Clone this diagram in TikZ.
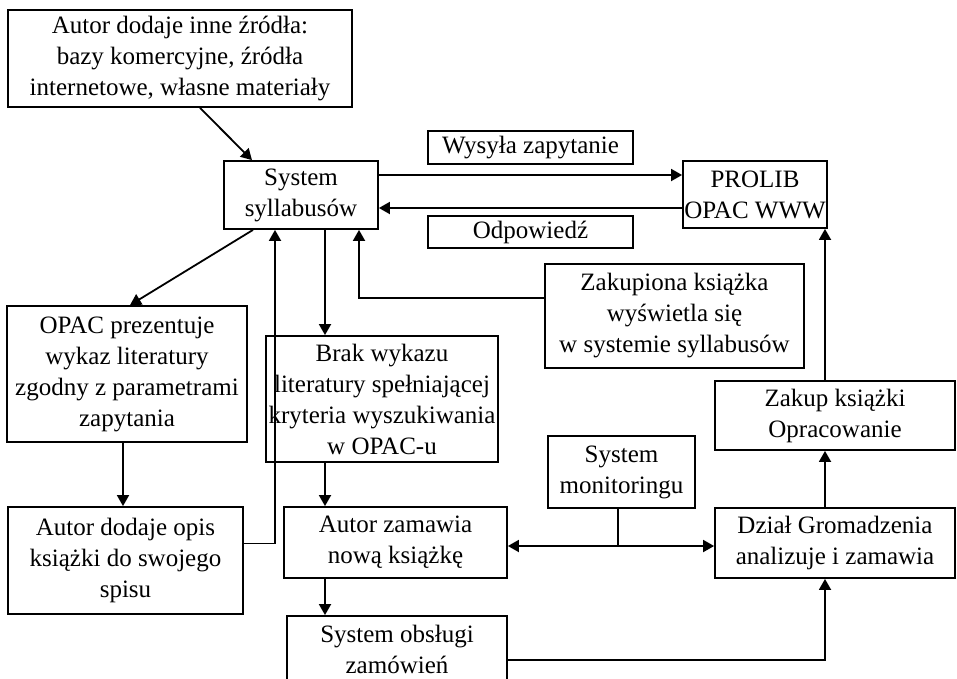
\documentclass[tikz,border=0pt]{standalone}
\usepackage{fontspec}
\setmainfont{Liberation Serif}
\usetikzlibrary{arrows.meta}

\begin{document}
\begin{tikzpicture}[
  x=1pt, y=-1pt,
  box/.style={draw, rectangle, line width=1.8pt, inner sep=0pt, align=center,
    font=\fontsize{25}{31}\selectfont},
  arr/.style={line width=1.8pt, -{Triangle[length=11pt, width=12pt]}},
  link/.style={line width=1.8pt}
]
\useasboundingbox (0,0) rectangle (957,678);

% Top - sources and syllabus system
\node[box, minimum width=344pt, minimum height=97pt] (src) at (180,58.5) {
  Autor dodaje inne źródła: \\
  bazy komercyjne, źródła \\
  internetowe, własne materiały
};
\node[box, minimum width=154pt, minimum height=68pt] (syl) at (301,195) {System \\ syllabusów};
\node[box, minimum width=205pt, minimum height=33pt] (query) at (530.5,147.5) {Wysyła zapytanie};
\node[box, minimum width=205pt, minimum height=32pt] (answer) at (530.5,232) {Odpowiedź};
\node[box, minimum width=144pt, minimum height=67pt] (prolib) at (755,194.5) {PROLIB \\ OPAC WWW};

% Middle row
\node[box, minimum width=240pt, minimum height=136pt] (opac) at (127,374) {
  OPAC prezentuje \\
  wykaz literatury \\
  zgodny z parametrami \\
  zapytania
};
\node[box, minimum width=232pt, minimum height=126pt] (brak) at (382,399) {
  Brak wykazu \\
  literatury spełniającej \\
  kryteria wyszukiwania \\
  w OPAC-u
};
\node[box, minimum width=259pt, minimum height=104pt] (bought) at (674.5,316) {
  Zakupiona książka \\
  wyświetla się \\
  w systemie syllabusów
};
\node[box, minimum width=240pt, minimum height=69pt] (buy) at (835,415.5) {Zakup książki \\ Opracowanie};
\node[box, minimum width=147pt, minimum height=72pt] (monitor) at (621.5,472) {System \\ monitoringu};

% Bottom row
\node[box, minimum width=235pt, minimum height=107pt] (addref) at (125.5,560.5) {
  Autor dodaje opis \\
  książki do swojego \\
  spisu
};
\node[box, minimum width=223pt, minimum height=71pt] (order) at (395.5,542.5) {Autor zamawia \\ nową książkę};
\node[box, minimum width=240pt, minimum height=70pt] (dept) at (835,543) {Dział Gromadzenia \\ analizuje i zamawia};
\node[box, minimum width=220pt, minimum height=66pt] (orders) at (397,649) {System obsługi \\ zamówień};

% Query and answer
\draw[arr] ([xshift=20pt]src.south) -- ([xshift=-49pt]syl.north);
\draw[arr] ([yshift=20pt]syl.east) -- ([yshift=20pt]syl.east -| prolib.west);
\draw[arr] ([yshift=-13.5pt]prolib.west) -- ([yshift=-13.5pt]prolib.west -| syl.east);

% From the syllabus system downwards
\draw[arr] ([xshift=-48pt]syl.south) -- ([xshift=3pt]opac.north);
\draw[arr] ([xshift=24pt]syl.south) -- ([xshift=24pt]syl.south |- brak.north);
\draw[arr] ([yshift=18pt]bought.west) -| ([xshift=58pt]syl.south);
\draw[arr] ([yshift=17pt]addref.east) -| ([xshift=-26pt]syl.south);
\draw[arr] ([xshift=-4pt]opac.south) -- ([xshift=-4pt]opac.south |- addref.north);

% Ordering
\draw[arr] ([xshift=-57pt]brak.south) -- ([xshift=-57pt]brak.south |- order.north);
\draw[arr] ([xshift=-70.5pt]order.south) -- ([xshift=-70.5pt]order.south |- orders.north);
\draw[arr] ([yshift=-11pt]orders.east) -| ([xshift=-10pt]dept.south);
\draw[arr] ([xshift=-10pt]dept.north) -- ([xshift=-10pt]buy.south);
\draw[arr] ([xshift=-10pt]buy.north) -- ([xshift=70pt]prolib.south);

% Monitoring
\coordinate (fork) at (618,546);
\draw[link] (monitor.south -| fork) -- (fork);
\draw[arr] (fork) -- (fork -| order.east);
\draw[arr] (fork) -- (fork -| dept.west);

\end{tikzpicture}
\end{document}
